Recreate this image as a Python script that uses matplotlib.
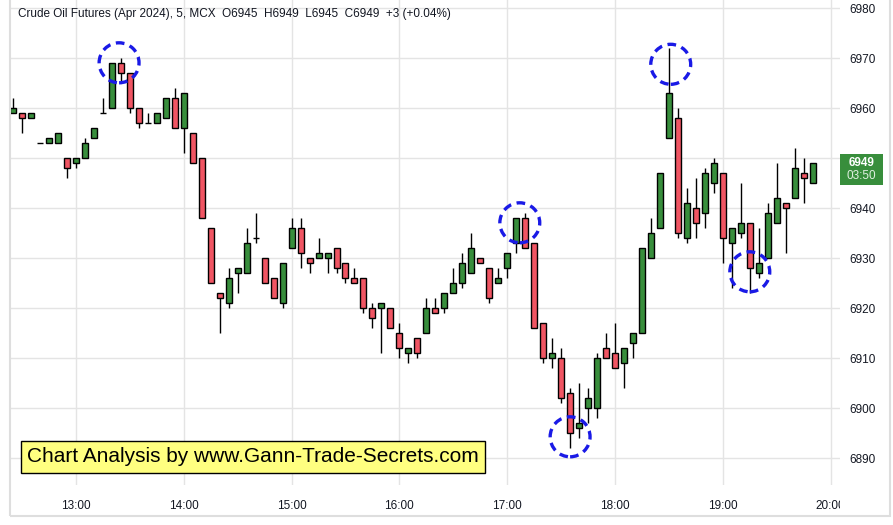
import pandas as pd
import matplotlib.pyplot as plt
from matplotlib.patches import Ellipse, Rectangle
from matplotlib.transforms import Bbox, TransformedBbox

plt.rcParams['font.family'] = ['Liberation Sans', 'DejaVu Sans']

# 5 min candles, 12:25 -> 19:50
opens = [6959, 6959, 6958, 6953, 6953, 6953, 6950, 6949, 6950, 6954,
         6959, 6960, 6969, 6967, 6960, 6957, 6957, 6958, 6962, 6956,
         6955, 6950, 6936, 6923, 6921, 6927, 6927, 6934, 6930, 6926,
         6921, 6932, 6936, 6930, 6930, 6930, 6932, 6929, 6926, 6926,
         6920, 6920, 6920, 6915, 6911, 6914, 6915, 6920, 6920, 6923,
         6925, 6927, 6930, 6928, 6925, 6928, 6933, 6938, 6933, 6917,
         6910, 6910, 6903, 6896, 6900, 6900, 6912, 6911, 6909, 6913,
         6915, 6930, 6936, 6954, 6958, 6934, 6940, 6939, 6945, 6947,
         6933, 6935, 6937, 6927, 6930, 6937, 6941, 6942, 6947, 6945]
highs = [6962, 6959, 6959, 6953, 6954, 6955, 6950, 6950, 6954, 6956,
         6962, 6969, 6970, 6967, 6960, 6959, 6959, 6962, 6964, 6963,
         6955, 6950, 6936, 6923, 6928, 6928, 6936, 6939, 6930, 6926,
         6929, 6938, 6938, 6930, 6934, 6931, 6932, 6929, 6928, 6926,
         6921, 6921, 6920, 6917, 6912, 6914, 6922, 6922, 6923, 6928,
         6931, 6935, 6930, 6928, 6928, 6931, 6938, 6939, 6933, 6917,
         6914, 6912, 6904, 6905, 6904, 6911, 6915, 6917, 6912, 6915,
         6932, 6938, 6947, 6972, 6960, 6944, 6946, 6948, 6950, 6947,
         6936, 6945, 6937, 6936, 6941, 6949, 6941, 6952, 6950, 6949]
lows = [6959, 6955, 6958, 6953, 6953, 6953, 6946, 6948, 6950, 6954,
        6959, 6960, 6965, 6959, 6956, 6957, 6957, 6958, 6956, 6951,
        6949, 6938, 6925, 6915, 6920, 6923, 6927, 6933, 6925, 6922,
        6920, 6932, 6928, 6927, 6930, 6927, 6927, 6925, 6925, 6919,
        6916, 6911, 6916, 6910, 6909, 6910, 6915, 6919, 6919, 6923,
        6924, 6927, 6929, 6921, 6925, 6926, 6931, 6932, 6916, 6909,
        6908, 6901, 6892, 6894, 6897, 6898, 6910, 6908, 6904, 6910,
        6915, 6930, 6936, 6954, 6934, 6933, 6934, 6936, 6943, 6929,
        6924, 6934, 6923, 6926, 6930, 6937, 6931, 6942, 6941, 6945]
closes = [6960, 6958, 6959, 6953, 6954, 6955, 6948, 6950, 6953, 6956,
          6959, 6969, 6967, 6960, 6957, 6957, 6959, 6962, 6956, 6963,
          6949, 6938, 6925, 6922, 6926, 6928, 6933, 6934, 6925, 6922,
          6929, 6936, 6931, 6929, 6931, 6931, 6928, 6926, 6925, 6920,
          6918, 6921, 6916, 6912, 6912, 6911, 6920, 6919, 6923, 6925,
          6929, 6932, 6929, 6922, 6926, 6931, 6938, 6932, 6916, 6910,
          6911, 6902, 6895, 6897, 6902, 6910, 6910, 6908, 6912, 6915,
          6932, 6935, 6947, 6963, 6935, 6941, 6937, 6947, 6949, 6934,
          6936, 6937, 6928, 6929, 6939, 6942, 6940, 6948, 6946, 6949]

hour_labels = ["13:00", "14:00", "15:00", "16:00", "17:00", "18:00", "19:00", "20:00"]
price_ticks = [6890, 6900, 6910, 6920, 6930, 6940, 6950, 6960, 6970, 6980]

# hand drawn circles (time, price)
circle_times = ["13:24", "17:07", "17:35", "18:31", "19:15"]
circle_prices = [6969.1, 6937.1, 6894.3, 6968.8, 6927.3]

change = "+3 (+0.04%)"
timer = "03:50"

GREEN = '#388e3c'
RED = '#f05563'
TXT = '#131722'


def minutes(t):
    h, m = t.split(":")
    return (int(h) - 13) * 60 + int(m)


times = pd.date_range("2024-03-15 12:25", periods=len(opens), freq="5min")
x = [(t.hour - 13) * 60 + t.minute for t in times]

fig = plt.figure(figsize=(8.93, 5.25), dpi=100)
ax = fig.add_axes([10 / 893, 1 - 485 / 525, 830 / 893, 485 / 525])

ax.set_xlim(-36.7, 425.2)
ax.set_ylim(6884.66, 6981.66)

# wicks
ax.vlines(x, lows, highs, color='black', lw=1, zorder=2)
# bodies
bottoms = [min(o, c) for o, c in zip(opens, closes)]
heights = [abs(c - o) for o, c in zip(opens, closes)]
colors = [GREEN if c >= o else RED for o, c in zip(opens, closes)]
ax.bar(x, heights, bottom=bottoms, width=3.34, color=colors,
       edgecolor='black', linewidth=1, zorder=3)

for t, p in zip(circle_times, circle_prices):
    ax.add_patch(Ellipse((minutes(t), p), width=22.2, height=8.0, fill=False,
                         edgecolor='#1a1ae6', lw=2.4, linestyle=(0, (2.6, 1.7)),
                         zorder=5))

ax.set_xticks([minutes(h) for h in hour_labels])
ax.set_xticklabels(hour_labels)
ax.set_yticks(price_ticks)
ax.yaxis.tick_right()
ax.tick_params(axis='both', length=0, labelsize=8.5, labelcolor=TXT)
ax.tick_params(axis='x', pad=11)
ax.tick_params(axis='y', pad=7)
ax.grid(True, color='#e4e4e4', lw=1)
ax.set_axisbelow(True)
for s in ax.spines.values():
    s.set_visible(False)

# last hour label is cut by the price scale
clip = TransformedBbox(Bbox([[0, 0], [840 / 893, 1]]), fig.transFigure)
lab = ax.get_xticklabels()[-1]
lab.set_clip_box(clip)
lab.set_clip_on(True)

# last price tag
last = closes[-1]
yt = ax.get_yaxis_transform()
ax.add_patch(Rectangle((1.0, last - 4.3), 0.052, 6.2, transform=yt,
                       facecolor=GREEN, edgecolor='none', clip_on=False, zorder=6))
ax.text(1.026, last, str(last), transform=yt, ha='center', va='center',
        color='white', fontsize=8.5, fontweight='bold', zorder=7)
ax.text(1.026, last - 2.6, timer, transform=yt, ha='center', va='center',
        color='#e0f0e0', fontsize=8.5, zorder=7)

title = "Crude Oil Futures (Apr 2024), 5, MCX  O%d  H%d  L%d  C%d  %s" % (
    opens[-1], highs[-1], lows[-1], closes[-1], change)
fig.text(18 / 893, 1 - 14 / 525, title, fontsize=8.5, color=TXT, va='center')

fig.text(27 / 893, 1 - 457 / 525, "Chart Analysis by www.Gann-Trade-Secrets.com",
         fontsize=15, color='black', va='center',
         bbox=dict(boxstyle='square,pad=0.3', facecolor='#ffff80',
                   edgecolor='black', lw=1))

# outer frame
fig.patches.append(Rectangle((10 / 893, 1 - 516 / 525), 880 / 893, 0.99,
                             transform=fig.transFigure, fill=False,
                             edgecolor='#dedede', lw=1.5))

plt.savefig('out.png', dpi=100)
